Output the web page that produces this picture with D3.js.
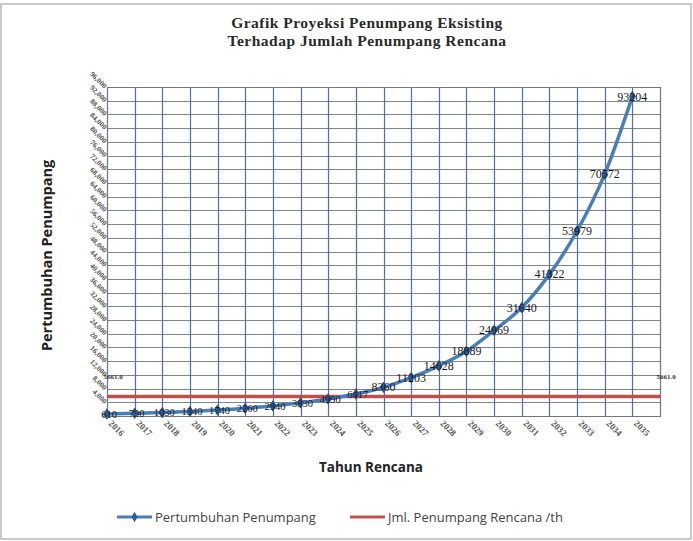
<!DOCTYPE html>
<html>
<head>
<meta charset="utf-8">
<script src="https://cdn.jsdelivr.net/npm/d3@7/dist/d3.min.js"></script>
<style>
  body { margin: 0; background: #fff; }
  text { font-family: "Liberation Sans", Arial, sans-serif; }
</style>
</head>
<body>
<svg width="693" height="541"></svg>
<script>
(function() {
  'use strict';

  // data
  var years = [2016, 2017, 2018, 2019, 2020, 2021, 2022, 2023, 2024, 2025,
               2026, 2027, 2028, 2029, 2030, 2031, 2032, 2033, 2034, 2035];
  var penumpang = [610, 790, 1030, 1340, 1740, 2260, 2940, 3830, 4990, 6417,
                   8360, 11203, 14628, 18889, 24969, 31640, 41322, 53979, 70572, 93204];
  var rencana = 5661.0;
  var yTicks = [0, 4000, 8000, 12000, 16000, 20000, 24000, 28000, 32000, 36000,
                40000, 44000, 48000, 52000, 56000, 60000, 64000, 68000, 72000,
                76000, 80000, 84000, 88000, 92000, 96000];
  var seriesNames = ["Pertumbuhan Penumpang", "Jml. Penumpang Rencana /th"];

  var svg = d3.select("svg");
  var width = +svg.attr("width");
  var height = +svg.attr("height");

  var plot = { left: 107, right: 660, top: 87, bottom: 416 };
  var blue = "#4a7ebb", red = "#c0504d";
  var serif = "'Liberation Serif', 'Times New Roman', serif";
  var sans = "'Open Sans', sans-serif";

  // outer chart frame
  svg.append("rect")
    .attr("x", 1).attr("y", 4)
    .attr("width", width - 3).attr("height", height - 6)
    .attr("fill", "#fff")
    .attr("stroke", "#b8b8b8")
    .attr("stroke-width", 1.5);

  // x: one slot per year plus one extra column on the right, points on gridlines
  var x = d3.scaleLinear()
    .domain([0, years.length])
    .range([plot.left, plot.right]);

  var y = d3.scaleLinear()
    .domain([0, d3.max(yTicks)])
    .range([plot.bottom, plot.top]);

  // title
  var title = svg.append("g")
    .attr("font-weight", "bold")
    .attr("font-size", 15.5)
    .attr("letter-spacing", 0.5)
    .attr("fill", "#2a2a2a")
    .attr("text-anchor", "middle");
  title.append("text").attr("x", 367).attr("y", 28)
    .style("font-family", serif)
    .text("Grafik Proyeksi Penumpang Eksisting");
  title.append("text").attr("x", 367).attr("y", 46)
    .style("font-family", serif)
    .text("Terhadap Jumlah Penumpang Rencana");

  // gridlines
  var grid = svg.append("g");
  grid.selectAll("line.h")
    .data(yTicks)
    .enter().append("line")
      .attr("class", "h")
      .attr("x1", plot.left).attr("x2", plot.right)
      .attr("y1", function(d) { return Math.round(y(d)) + 0.5; })
      .attr("y2", function(d) { return Math.round(y(d)) + 0.5; })
      .attr("stroke", "#7d8590")
      .attr("stroke-width", 1);

  grid.selectAll("line.v")
    .data(d3.range(years.length + 1))
    .enter().append("line")
      .attr("class", "v")
      .attr("y1", plot.top).attr("y2", plot.bottom)
      .attr("x1", function(i) { return Math.round(x(i)) + 0.5; })
      .attr("x2", function(i) { return Math.round(x(i)) + 0.5; })
      .attr("stroke", "#4f6ea6")
      .attr("stroke-width", 1.2);

  svg.append("rect")
    .attr("x", plot.left + 0.5).attr("y", plot.top + 0.5)
    .attr("width", plot.right - plot.left).attr("height", plot.bottom - plot.top)
    .attr("fill", "none")
    .attr("stroke", "#6f7680");

  // y tick labels (slanted)
  svg.append("g")
    .selectAll("text")
    .data(yTicks)
    .enter().append("text")
      .attr("transform", function(d) {
        return "translate(" + (plot.left - 3) + "," + (y(d) + 2) + ") rotate(45)";
      })
      .attr("text-anchor", "end")
      .attr("font-size", 7.5)
      .attr("font-weight", "bold")
      .attr("fill", "#555")
      .style("font-family", serif)
      .text(function(d) { return d3.format(",")(d); });

  // x tick labels (slanted)
  svg.append("g")
    .selectAll("text")
    .data(years)
    .enter().append("text")
      .attr("transform", function(d, i) {
        return "translate(" + (x(i) + 1) + "," + (plot.bottom + 8) + ") rotate(45)";
      })
      .attr("text-anchor", "start")
      .attr("font-size", 9)
      .attr("font-weight", "bold")
      .attr("fill", "#555")
      .style("font-family", serif)
      .text(function(d) { return d; });

  // axis titles
  svg.append("text")
    .attr("transform", "translate(52," + ((plot.top + plot.bottom) / 2 + 4) + ") rotate(-90)")
    .attr("text-anchor", "middle")
    .attr("font-size", 14.5)
    .attr("font-weight", "bold")
    .attr("fill", "#222")
    .style("font-family", sans)
    .text("Pertumbuhan Penumpang");

  svg.append("text")
    .attr("x", 371).attr("y", 472)
    .attr("text-anchor", "middle")
    .attr("font-size", 13.5)
    .attr("font-weight", "bold")
    .attr("fill", "#222")
    .style("font-family", sans)
    .text("Tahun Rencana");

  // red reference line
  svg.append("line")
    .attr("x1", x(0)).attr("x2", x(years.length))
    .attr("y1", y(rencana)).attr("y2", y(rencana))
    .attr("stroke", red)
    .attr("stroke-width", 3.5);

  svg.append("g")
    .selectAll("text")
    .data([0, years.length])
    .enter().append("text")
      .attr("x", function(i) { return x(i) + 6; })
      .attr("y", y(rencana) - 18)
      .attr("text-anchor", "middle")
      .attr("font-size", 7)
      .attr("font-weight", "bold")
      .attr("fill", "#333")
      .style("font-family", serif)
      .text(d3.format(".1f")(rencana));

  // blue projection curve
  var line = d3.line()
    .x(function(d, i) { return x(i); })
    .y(function(d) { return y(d); })
    .curve(d3.curveMonotoneX);

  svg.append("path")
    .datum(penumpang)
    .attr("d", line)
    .attr("fill", "none")
    .attr("stroke", blue)
    .attr("stroke-width", 3.5);

  var diamond = d3.symbol().type(d3.symbolDiamond).size(32);

  svg.append("g")
    .selectAll("path")
    .data(penumpang)
    .enter().append("path")
      .attr("d", diamond)
      .attr("transform", function(d, i) { return "translate(" + x(i) + "," + y(d) + ")"; })
      .attr("fill", "#2f5d9a")
      .attr("stroke", "#1f4a85")
      .attr("stroke-width", 0.8);

  svg.append("g")
    .selectAll("text")
    .data(penumpang)
    .enter().append("text")
      .attr("x", function(d, i) { return x(i) + (i < 10 ? 2 : 0); })
      .attr("y", function(d) { return y(d) + 4; })
      .attr("text-anchor", "middle")
      .attr("font-size", function(d, i) { return i < 10 ? 10.5 : 12; })
      .attr("fill", "#1a1a1a")
      .style("font-family", serif)
      .text(function(d) { return d; });

  // legend
  var legend = svg.append("g").attr("transform", "translate(0,517)");
  legend.append("line")
    .attr("x1", 117).attr("x2", 152).attr("y1", 0).attr("y2", 0)
    .attr("stroke", blue).attr("stroke-width", 3);
  legend.append("path")
    .attr("d", diamond)
    .attr("transform", "translate(134.5,0)")
    .attr("fill", "#2f5d9a");
  legend.append("text")
    .attr("x", 155).attr("y", 4.5)
    .attr("font-size", 13)
    .attr("fill", "#444")
    .style("font-family", sans)
    .text(seriesNames[0]);

  legend.append("line")
    .attr("x1", 350).attr("x2", 385).attr("y1", 0).attr("y2", 0)
    .attr("stroke", red).attr("stroke-width", 3);
  legend.append("text")
    .attr("x", 388).attr("y", 4.5)
    .attr("font-size", 13)
    .attr("fill", "#444")
    .style("font-family", sans)
    .text(seriesNames[1]);
}());
</script>
</body>
</html>
